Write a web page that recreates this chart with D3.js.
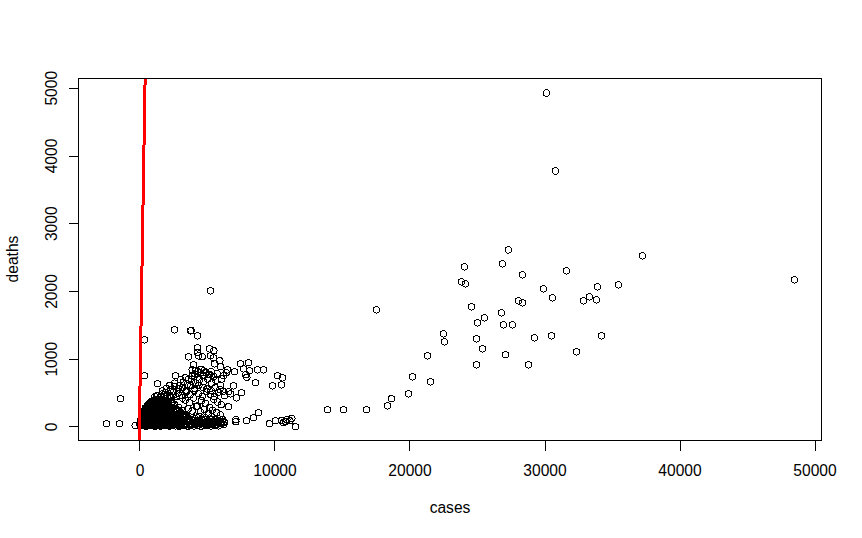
<!DOCTYPE html>
<html>
<head>
<meta charset="utf-8">
<script src="https://cdn.jsdelivr.net/npm/d3@7"></script>
<style>
  body { margin: 0; background: #fff; }
  text { font-family: "Liberation Sans", Arial, sans-serif; fill: #000; }
</style>
</head>
<body>
<div id="chart"></div>
<script>
//values
//right hand cloud
const farCases = [30146,30813,37257,48516,31628,29924,35480,33924,27332,26887,24073,28369,23851,24147,30591,33332,32887,33850,28073,28369,24591,17555,26813,25554,25036,26961,27628,22517,22591,24962,29258,30517,34220,25406,32369,21332,27110,24962,28813,20221,21554,19925,18666,18369,16814,15110,13925];
const farDeaths = [4922,3772,2518,2164,2297,2031,2090,2061,2606,2400,2356,2238,2134,2105,1898,1913,1854,1869,1854,1825,1766,1721,1677,1603,1530,1500,1500,1367,1249,1294,1308,1338,1338,1146,1102,1043,1058,910,910,733,659,482,409,305,246,246,246];

//single points around the main blob
const outerCases = [5259,2593,3778,4296,3830,370,370,-1407,-2444,-1481,-320,1333,2666,4296,5185,5511,3630,4296,4370,4644,5259,5481,5955,5555,4000,7481,8074,7703,8148,7037,8740,9185,7881,7955,8592,10222,10592,9851,10518,6000,6518,6422,6222,6963,6592,7555,7185,6740,6296,6592,8814,8444,7925,7140,7140,9629,10073,10666,10548,10800,10918,11288,11140,11555];
const outerDeaths = [2002,1426,1412,1338,1416,1279,748,409,40,40,15,630,748,1161,1146,1117,1028,1096,1043,1028,1043,1013,969,925,910,925,940,851,822,807,836,836,763,727,645,748,718,600,615,881,836,792,748,600,512,497,423,482,453,291,202,128,84,99,69,40,84,55,88,74,99,118,84,-4];

//loose rings above the solid part
const midCases = [
  1300,1650,1950,2250,2550,2850,3150,3450,3750,4050,4350,4650,4950,5250,5550,5850,
  1700,2000,2300,2600,2900,3200,3500,3800,4100,4400,4700,5000,5300,5600,5950,6200,
  2250,2600,2950,3250,3550,3850,4150,4450,4750,5050,5350,5650,6000,
  3050,3400,3650,3900,4100,4300,4500,4700,4900,5100,5300,5500,5750,6100,
  3900,4150,4350,4550,4750,4950,5200,
  3400,3700,4000,4300,4600,4900,5200,5500,5800,6050,
  3600,3900,4200,4500,4800,5100,5400,5700,6000
];
const midDeaths = [
  455,478,500,462,520,490,455,510,470,530,485,445,515,475,440,505,
  525,560,540,590,555,575,535,600,560,610,580,555,530,570,545,520,
  610,640,600,655,625,670,640,690,660,700,640,680,610,
  690,720,700,745,775,730,790,750,800,770,810,740,780,700,
  835,830,810,845,820,790,770,
  390,350,420,300,380,340,280,400,360,320,
  260,230,300,215,250,190,240,205,170
];

//the solid part near the origin, written row by row
const coreCases = [
  60,250,470,700,900,1130,1340,1560,1790,2010,2230,2450,2680,2900,3100,3350,3600,3820,4050,4300,4540,4800,5050,5300,5600,5850,
  150,360,590,810,1040,1250,1480,1700,1920,2140,2370,2580,2810,3030,3240,3480,3710,3950,4180,4420,4670,4920,5170,5450,5720,5980,6220,
  20,240,480,690,930,1150,1370,1600,1810,2040,2260,2490,2700,2930,3150,3380,3590,3840,4060,4290,4530,4760,5020,5280,5540,5790,6050,6300,
  130,380,620,850,1060,1290,1510,1740,1960,2190,2410,2630,2860,3080,3300,3530,3770,4000,4240,4480,4730,4980,5230,5490,5760,6020,6280,
  90,310,520,760,980,1210,1430,1650,1880,2100,2320,2550,2770,3000,3220,3450,3670,3900,4130,4360,4600,4850,5100,5350,5620,5900,6150,
  200,430,660,880,1110,1330,1560,1780,2000,2230,2450,2670,2900,3120,3360,3590,
  130,350,570,790,1020,1240,1460,1690,1910,2130,2360,2580,2800,3030,3260,3500,3950,4400,4900,5350,5800,
  270,490,720,940,1160,1390,1610,1830,2050,2280,2500,2720,2950,3170,3400,
  180,410,630,860,1080,1300,1530,1750,1970,2200,2420,2640,2870,3100,3330,
  350,580,800,1020,1250,1470,1690,1910,2140,2360,2590,2810,3040,
  290,510,730,950,1170,1400,1620,1840,2070,2290,2510,2740,2960,3190,
  520,750,970,1200,1420,1640,1870,2090,2320,2540,2770,
  420,640,870,1090,1310,1540,1760,1980,2210,2430,2650,2880,
  700,930,1150,1380,1600,1820,2050,2270,2500,
  600,820,1040,1270,1490,1710,1930,2160,2380,2610,
  820,1050,1280,1500,1720,1950,2170,2400,
  1250,1480,1700,1930,2150,2340,
  110,220,340,450,560,670,780,890,1010,1120,1230,1350,1460,1570,1680,1800,1910,2020,2130,2250,2360,2470,2590,2700,2820,
  80,200,310,430,540,650,770,880,990,1100,1220,1330,1450,1560,1670,1790,1900,2010,2120,2240,2350,2460,2580,2690,2810,
  170,280,400,510,620,740,850,960,1070,1190,1300,1410,1530,1640,1750,1860,1980,2090,2200,2320,2430,2540,2660,2770,
  240,350,470,580,690,810,920,1030,1140,1260,1370,1480,1600,1710,1820,1930,2050,2160,2270,2390,2500,2610,
  320,440,550,660,780,890,1000,1110,1230,1340,1450,1570,1680,1790,1900,2020,2130,2240,2360,2470,
  410,520,640,750,860,970,1090,1200,1310,1430,1540,1650,1760,1880,1990,2100,2220,2330,
  540,650,770,880,990,1110,1220,1330,1440,1560,1670,1780,1900,2010,2120,2240,
  710,820,940,1050,1160,1280,1390,1500,1610,1730,1840,1950,2070,2180,
  910,1020,1140,1250,1360,1480,1590,1700,1820,1930,2040,
  1130,1360,1590,1820,2050,2280,2510,2730,2960,3190
];
const coreDeaths = [
  8,14,5,18,10,3,16,7,12,20,6,15,9,4,17,11,6,19,8,13,5,16,10,7,12,9,
  28,22,34,26,31,24,37,29,21,33,27,36,23,30,25,35,22,32,28,38,24,31,26,34,29,23,27,
  42,58,47,63,51,38,66,54,44,60,49,57,36,62,46,53,68,41,59,45,64,50,39,56,48,61,43,55,
  70,78,66,82,74,68,80,72,76,65,84,70,78,67,81,73,69,79,75,66,83,71,77,68,80,74,70,
  88,102,93,108,84,98,112,90,104,86,96,110,82,100,92,106,87,99,113,89,103,94,85,107,97,83,101,
  118,126,114,122,130,116,124,120,128,112,125,119,131,115,123,117,
  132,148,137,152,128,143,156,135,147,130,150,139,154,126,145,138,131,149,127,144,118,
  165,158,172,162,155,168,160,174,157,166,163,170,156,169,161,
  178,192,172,198,184,170,195,180,189,175,200,168,186,193,174,
  208,214,204,218,210,206,216,202,212,220,205,215,209,
  224,238,218,242,228,215,236,222,245,230,219,240,226,234,
  250,256,246,260,252,248,258,254,244,262,251,
  268,282,262,286,272,260,280,266,290,275,258,284,
  298,304,294,308,300,296,306,292,302,
  314,328,308,332,318,305,326,312,335,320,
  358,372,352,378,362,350,370,356,
  402,420,396,415,405,425,
  18,32,24,40,12,28,36,20,44,16,30,38,22,14,34,26,42,10,32,24,18,36,28,40,20,
  62,50,74,56,68,46,80,60,52,72,58,66,48,76,54,70,44,64,78,50,60,68,56,74,46,
  108,96,116,90,104,120,94,110,100,118,92,106,114,98,88,112,102,122,94,108,116,90,104,98,
  150,140,160,134,154,144,164,138,158,148,132,162,142,152,136,166,146,156,130,160,140,150,
  196,184,206,178,200,188,210,182,194,204,176,198,186,208,180,192,202,174,196,184,
  238,228,250,222,244,232,254,226,240,248,220,236,252,230,242,224,246,234,
  284,272,296,266,290,278,300,270,286,294,268,282,298,276,288,264,
  330,318,342,312,336,324,346,316,332,340,314,328,344,322,
  374,386,366,392,378,360,388,370,382,364,376,
  440,458,426,470,448,432,462,438,452,420
];

const xTicks = [0,10000,20000,30000,40000,50000];
const yTicks = [0,1000,2000,3000,4000,5000];

//fit line, deaths = intercept + slope * cases
const fitIntercept = 125;
const fitSlope = 12;

const width = 862, height = 538;
const left = 78.5, right = 821.5, top_ = 78.5, bottom = 440.5;

const svg = d3.select('#chart').append('svg')
    .attr('width', width)
    .attr('height', height)
    .style('display', 'block');

const x = d3.scaleLinear().domain([-4518, 50518]).range([left, right]);
const y = d3.scaleLinear().domain([-207, 5137]).range([bottom, top_]);

//points
const points = [
    ...d3.zip(coreCases, coreDeaths),
    ...d3.zip(midCases, midDeaths),
    ...d3.zip(outerCases, outerDeaths),
    ...d3.zip(farCases, farDeaths)
];

svg.append('g').selectAll('circle')
    .data(points)
    .enter()
    .append('circle')
    .attr('cx', d => x(d[0]))
    .attr('cy', d => y(d[1]))
    .attr('r', 3.2)
    .attr('fill', 'none')
    .attr('stroke', '#000')
    .attr('stroke-width', 1)
    .attr('shape-rendering', 'crispEdges');

//red fit line, cut at the box
svg.append('clipPath').attr('id', 'plotArea')
    .append('rect')
    .attr('x', left).attr('y', top_)
    .attr('width', right - left).attr('height', bottom - top_);

const lineDeaths = y.domain();
svg.append('line')
    .attr('clip-path', 'url(#plotArea)')
    .attr('x1', x((lineDeaths[0] - fitIntercept) / fitSlope))
    .attr('y1', y(lineDeaths[0]))
    .attr('x2', x((lineDeaths[1] - fitIntercept) / fitSlope))
    .attr('y2', y(lineDeaths[1]))
    .attr('stroke', '#f00')
    .attr('stroke-width', 3)
    .attr('shape-rendering', 'crispEdges');

//box
svg.append('rect')
    .attr('x', left).attr('y', top_)
    .attr('width', right - left).attr('height', bottom - top_)
    .attr('fill', 'none')
    .attr('stroke', '#000')
    .attr('shape-rendering', 'crispEdges');

//axes
const xAxis = svg.append('g')
    .attr('transform', `translate(0, ${bottom})`)
    .call(d3.axisBottom(x).tickValues(xTicks).tickSize(10).tickPadding(14).tickFormat(d3.format('d')));
const yAxis = svg.append('g')
    .attr('transform', `translate(${left}, 0)`)
    .call(d3.axisLeft(y).tickValues(yTicks).tickSize(10).tickPadding(0).tickFormat(d3.format('d')));

xAxis.select('.domain').remove();
yAxis.select('.domain').remove();
svg.selectAll('.tick line').attr('stroke', '#000').attr('shape-rendering', 'crispEdges');
svg.selectAll('.tick text')
    .attr('fill', '#000')
    .style('font-size', '15.6px')
    .style('font-family', '"Liberation Sans", Arial, sans-serif');

//y labels run upwards in the original
yAxis.selectAll('.tick text')
    .attr('transform', 'rotate(-90)')
    .attr('x', 0)
    .attr('y', -22)
    .attr('dy', 0)
    .attr('text-anchor', 'middle');

//axis titles
svg.append('text')
    .attr('x', 450)
    .attr('y', 513)
    .attr('text-anchor', 'middle')
    .style('font-size', '15.6px')
    .text('cases');

svg.append('text')
    .attr('transform', 'translate(18, 259) rotate(-90)')
    .attr('text-anchor', 'middle')
    .style('font-size', '15.6px')
    .text('deaths');
</script>
</body>
</html>
